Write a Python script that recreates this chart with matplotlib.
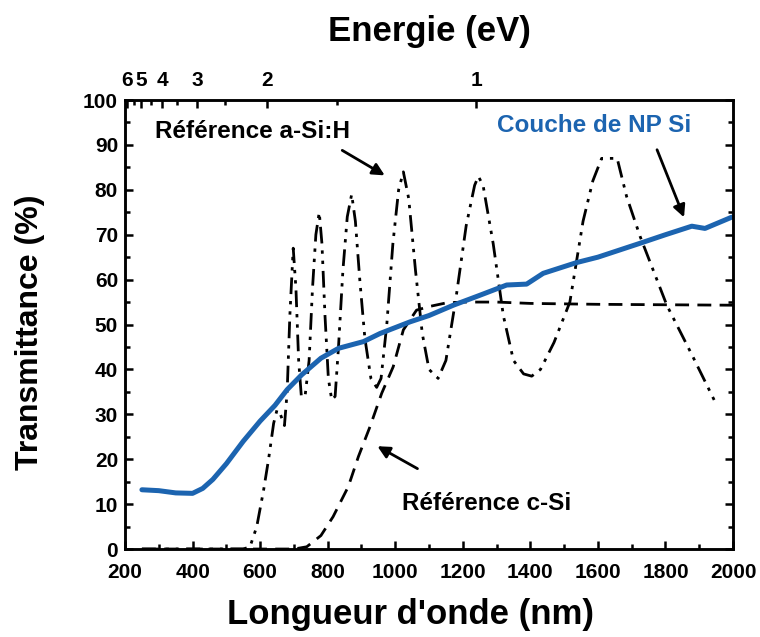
import matplotlib
matplotlib.use("Agg")
import matplotlib.pyplot as plt
import numpy as np

plt.rcParams['font.family'] = ['Liberation Sans', 'DejaVu Sans']
plt.rcParams['font.weight'] = 'bold'

# Couche de NP Si (blue, solid)
np_wl = [250, 300, 350, 400, 430, 460, 500, 550, 600, 644, 680, 723, 780, 832,
         906, 955, 1044, 1100, 1172, 1250, 1330, 1389, 1438, 1537, 1600, 1725,
         1800, 1878, 1917, 1996]
np_t = [13.2, 13.0, 12.5, 12.4, 13.5, 15.5, 19.0, 24.0, 28.5, 32.0, 35.5, 38.8,
        42.5, 44.7, 46.2, 48.0, 50.6, 52.0, 54.3, 56.5, 58.8, 59.0, 61.4, 63.8,
        65.0, 68.1, 70.0, 71.9, 71.4, 73.9]

# Reference a-Si:H (dash-dot-dot)
asi_wl = [250, 400, 550, 570, 590, 610, 625, 640, 650, 660, 672, 680, 688, 698,
          706, 714, 722, 733, 745, 755, 765, 775, 783, 792, 802, 812, 822, 832,
          845, 858, 871, 882, 895, 910, 928, 945, 958, 975, 993, 1010, 1024, 1040,
          1060, 1080, 1100, 1127, 1150, 1180, 1210, 1235, 1246, 1260, 1290, 1320,
          1350, 1380, 1404, 1430, 1470, 1517, 1556, 1585, 1611, 1657, 1685, 1725,
          1804, 1880, 1952]
asi_t = [0, 0, 0, 0.5, 5, 13, 20, 28, 31, 30, 27.5, 35, 52, 67,
         58, 42, 34, 34, 42, 58, 70, 75, 68, 52, 38, 33.2, 34, 45,
         62, 74, 79, 73, 60, 47, 38, 36, 38, 50, 68, 80, 84, 78,
         62, 48, 40, 38, 42, 56, 72, 81, 83, 81, 68, 52,
         42, 39, 38.5, 40, 46, 55, 73, 82, 87, 87, 78.5, 69.6,
         54.3, 43, 32]

# Reference c-Si (dashed)
csi_wl = [250, 500, 700, 738, 780, 816, 861, 891, 925, 960, 994, 1024, 1063,
          1100, 1150, 1200, 1300, 1400, 1600, 1800, 2000]
csi_t = [0, 0, 0, 0.5, 3, 7.2, 13.9, 20.6, 27.2, 34.7, 40.6, 48.8, 53.2,
         54.0, 54.8, 55.0, 55.0, 54.7, 54.5, 54.4, 54.3]

energy_ticks = [6, 5, 4, 3, 2, 1]
energy_minor = [5.5, 4.5, 3.5, 2.5, 1.5]

blue = '#1c64b0'

fig = plt.figure(figsize=(7.6, 6.37), dpi=100)
ax = fig.add_axes([0.1645, 0.1381, 0.8, 0.7049])

ax.plot(asi_wl, asi_t, color='black', lw=2.0, dashes=(6, 2.5, 1.2, 2.5, 1.2, 2.5))
ax.plot(csi_wl, csi_t, color='black', lw=2.0, dashes=(5, 3))
ax.plot(np_wl, np_t, color=blue, lw=3.6, solid_capstyle='round')

ax.set_xlim(200, 2000)
ax.set_ylim(0, 100)
ax.set_xticks(np.arange(200, 2001, 200))
ax.set_xticks(np.arange(300, 2000, 200), minor=True)
ax.set_yticks(np.arange(0, 101, 10))
ax.set_yticks(np.arange(5, 100, 10), minor=True)
ax.tick_params(which='both', direction='in', width=1.8, labelsize=15,
               right=True, top=False)
ax.tick_params(which='major', length=6)
ax.tick_params(which='minor', length=3.5)
ax.tick_params(axis='x', pad=10)
ax.tick_params(axis='y', pad=5)
for lab in ax.get_xticklabels() + ax.get_yticklabels():
    lab.set_fontweight('bold')
for s in ax.spines.values():
    s.set_linewidth(1.8)

ax.set_xlabel("Longueur d'onde (nm)", fontsize=25, fontweight='bold')
ax.xaxis.set_label_coords(0.469, -0.11)
ax.set_ylabel("Transmittance (%)", fontsize=23, fontweight='bold')
ax.yaxis.set_label_coords(-0.132, 0.483)

# top energy axis
ax2 = ax.twiny()
ax2.set_xlim(200, 2000)
ax2.set_xticks([1240 / e for e in energy_ticks])
ax2.set_xticklabels([str(e) for e in energy_ticks], fontweight='bold')
ax2.set_xticks([1240 / e for e in energy_minor], minor=True)
ax2.tick_params(which='both', direction='in', width=1.8, labelsize=15, pad=7)
ax2.tick_params(which='major', length=6)
ax2.tick_params(which='minor', length=3.5)
ax2.set_xlabel("Energie (eV)", fontsize=25, fontweight='bold', labelpad=22)
for s in ax2.spines.values():
    s.set_linewidth(1.8)

arrow = dict(arrowstyle='-|>', color='black', lw=2, mutation_scale=18)
ax.text(289, 92.9, "Référence a-Si:H", fontsize=17.5, fontweight='bold', va='center')
ax.annotate("", xy=(976, 82.9), xytext=(836, 89.1), arrowprops=arrow)
ax.text(1301, 94.4, "Couche de NP Si", fontsize=17.5, fontweight='bold',
        color=blue, va='center')
ax.annotate("", xy=(1858, 73.3), xytext=(1772, 89.5), arrowprops=arrow)
ax.text(1020, 10.2, "Référence c-Si", fontsize=17.5, fontweight='bold', va='center')
ax.annotate("", xy=(940, 23.2), xytext=(1073, 17.6), arrowprops=arrow)

fig.savefig("out.png", dpi=100)
